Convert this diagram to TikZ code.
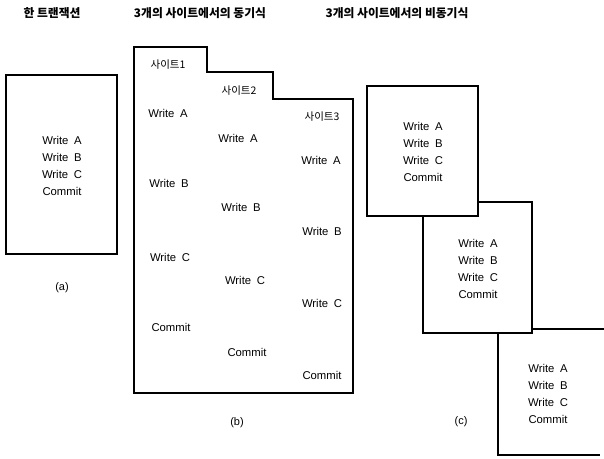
\documentclass[tikz,border=0pt]{standalone}
\usepackage{fontspec}
\setmainfont{Liberation Sans}
\newfontfamily\kr{Noto Sans CJK KR}
\begin{document}
\begin{tikzpicture}[x=1pt,y=-1pt,
  box/.style={draw=black,line width=1.1pt,fill=white},
  txt/.style={inner sep=0pt,font=\fontsize{11.3}{17}\selectfont,align=center},
  ttl/.style={inner sep=0pt,font=\kr\bfseries\fontsize{11.8}{13}\selectfont},
  site/.style={inner sep=0pt,font=\kr\fontsize{10.5}{12}\selectfont},
  lab/.style={inner sep=0pt,font=\fontsize{11}{12}\selectfont}]
\useasboundingbox[fill=white] (0,0) rectangle (604,458);
% titles
\node[ttl] (t1) at (52,13) {한 트랜잭션};
\node[ttl] (t2) at (200,13) {3개의 사이트에서의 동기식};
\node[ttl] (t3) at (397,13) {3개의 사이트에서의 비동기식};
% (a)
\draw[box] (6,75) rectangle (117,254);
\node[txt] (a1) at (62,166) {Write\hspace{0.5em}A\\Write\hspace{0.5em}B\\Write\hspace{0.5em}C\\Commit};
\node[lab] (la) at (62,288) {(a)};
% (b)
\draw[box] (134,47) -- (207,47) -- (207,72) -- (273,72) -- (273,99) -- (353,99) -- (353,393) -- (134,393) -- cycle;
\node[site] (s1) at (168,65) {사이트1};
\node[site] (s2) at (239,91) {사이트2};
\node[site] (s3) at (322,117) {사이트3};
\node[txt] (b1a) at (168,113) {Write\hspace{0.5em}A};
\node[txt] (b1b) at (169,183) {Write\hspace{0.5em}B};
\node[txt] (b1c) at (170,257) {Write\hspace{0.5em}C};
\node[txt] (b1d) at (171,327) {Commit};
\node[txt] (b2a) at (238,138) {Write\hspace{0.5em}A};
\node[txt] (b2b) at (241,207) {Write\hspace{0.5em}B};
\node[txt] (b2c) at (245,280) {Write\hspace{0.5em}C};
\node[txt] (b2d) at (247,352) {Commit};
\node[txt] (b3a) at (321,160) {Write\hspace{0.5em}A};
\node[txt] (b3b) at (322,231) {Write\hspace{0.5em}B};
\node[txt] (b3c) at (322,303) {Write\hspace{0.5em}C};
\node[txt] (b3d) at (322,375) {Commit};
\node[lab] (lb) at (237,423) {(b)};
% (c)
\draw[draw=black,line width=1.1pt] (604,329) -- (498,329) -- (498,455) -- (600,455);
\draw[box] (423,202) rectangle (532,333);
\draw[box] (367,86) rectangle (478,216);
\node[txt] (c1) at (423,152) {Write\hspace{0.5em}A\\Write\hspace{0.5em}B\\Write\hspace{0.5em}C\\Commit};
\node[txt] (c2) at (478,269) {Write\hspace{0.5em}A\\Write\hspace{0.5em}B\\Write\hspace{0.5em}C\\Commit};
\node[txt] (c3) at (548,394) {Write\hspace{0.5em}A\\Write\hspace{0.5em}B\\Write\hspace{0.5em}C\\Commit};
\node[lab] (lc) at (461,422) {(c)};
\end{tikzpicture}
\end{document}
